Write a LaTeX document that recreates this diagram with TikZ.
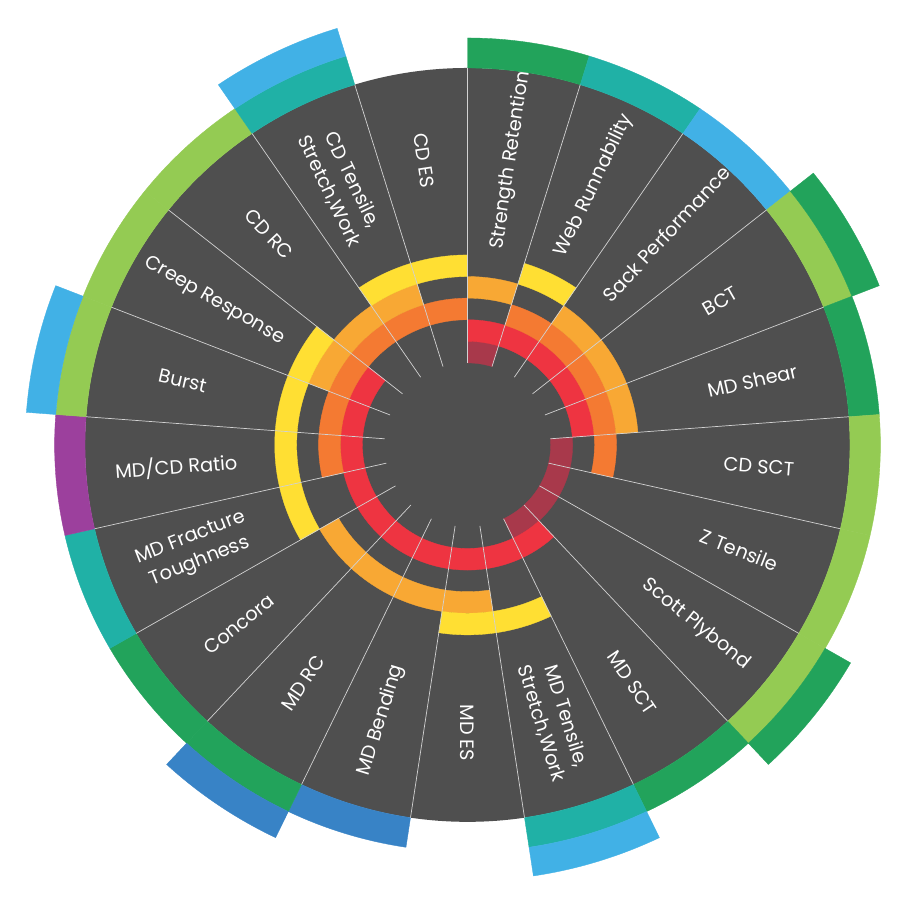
\documentclass[tikz,border=0pt]{standalone}
\usepackage{fontspec}
\setmainfont{Poppins}

\definecolor{disc}{HTML}{4F4F4F}
\definecolor{spokegray}{HTML}{D2D2D2}
\definecolor{lvmaroon}{HTML}{A8394B}
\definecolor{lvred}{HTML}{EE3441}
\definecolor{lvorange}{HTML}{F47A32}
\definecolor{lvamber}{HTML}{F8A834}
\definecolor{lvyellow}{HTML}{FFDF33}
\definecolor{dkgreen}{HTML}{22A35B}
\definecolor{ltgreen}{HTML}{94CB53}
\definecolor{teal}{HTML}{20B1A6}
\definecolor{ltblue}{HTML}{41B1E6}
\definecolor{blue}{HTML}{3883C6}
\definecolor{purple}{HTML}{9C409D}

% one piece of a ring: sector, inner radius, outer radius, colour
\newcommand{\ringpart}[4]{%
  \pgfmathsetmacro\sa{90-360/21*(#1-1)}%
  \pgfmathsetmacro\ea{\sa-360/21}%
  \path[fill=#4, draw=#4, line width=0.3pt] (\sa:#2) arc[start angle=\sa, end angle=\ea, radius=#2]
    -- (\ea:#3) arc[start angle=\ea, end angle=\sa, radius=#3] -- cycle;}

\begin{document}
\begin{tikzpicture}[x=0.03044cm, y=0.03cm,
    spoke/.style={draw=spokegray, line width=0.6pt},
    tag/.style={text=white, font=\fontsize{16.5}{22}\selectfont, align=center, inner sep=0pt},
    ]
    \useasboundingbox (-460.8,-463) rectangle (446,445);
    \fill[white] (-460.8,-463) rectangle (446,445);

    % Disc
    \fill[disc] (0,0) circle[radius=377];

    % Inner rings
    \foreach \i in {1,6,7,8,9} \ringpart{\i}{82}{103.6}{lvmaroon};
    \foreach \i in {1,2,3,4,5,9,10,11,12,13,14,15,16,17,18} \ringpart{\i}{103.6}{125.2}{lvred};
    \foreach \i in {2,3,4,5,6,16,17,18,19,20,21} \ringpart{\i}{125.2}{146.8}{lvorange};
    \foreach \i in {1,3,4,5,11,12,13,14,18,19,20} \ringpart{\i}{146.8}{168.4}{lvamber};
    \foreach \i in {2,10,11,15,16,17,18,20,21} \ringpart{\i}{168.4}{190}{lvyellow};

    % Outer rings
    \foreach \i/\c in {1/dkgreen,2/teal,3/ltblue,4/ltgreen,5/dkgreen,6/ltgreen,7/ltgreen,
        8/ltgreen,9/dkgreen,10/teal,12/blue,13/dkgreen,14/dkgreen,15/teal,16/purple,
        17/ltgreen,18/ltgreen,19/ltgreen,20/teal}
      \ringpart{\i}{377}{407}{\c};
    \foreach \i/\c in {4/dkgreen,8/dkgreen,10/ltblue,13/blue,17/ltblue,20/ltblue}
      \ringpart{\i}{407}{436}{\c};

    % Spokes
    \foreach \k in {0,...,20}
      \draw[spoke] (90-360/21*\k:82) -- (90-360/21*\k:377);

    % Place labels
    \foreach \i/\txt in {1/Strength Retention, 2/Web Runnability, 3/Sack Performance,
        4/BCT, 5/MD Shear, 6/CD SCT, 7/Z Tensile, 8/Scott Plybond, 9/MD SCT,
        10/{MD Tensile,\\Stretch,Work}, 11/MD ES, 12/MD Bending, 13/MD RC, 14/Concora,
        15/{MD Fracture\\Toughness}, 16/{MD/CD Ratio}, 17/Burst, 18/Creep Response,
        19/CD RC, 20/{CD Tensile,\\Stretch,Work}, 21/CD ES}
    {
      \pgfmathsetmacro\tagang{90-360/21*(\i-0.5)}
      \pgfmathsetmacro\tagrot{\tagang < -90.5 ? \tagang + 180 : \tagang}
      \node[tag, rotate=\tagrot] (prop\i) at (\tagang:288) {\txt};
    }
\end{tikzpicture}
\end{document}
